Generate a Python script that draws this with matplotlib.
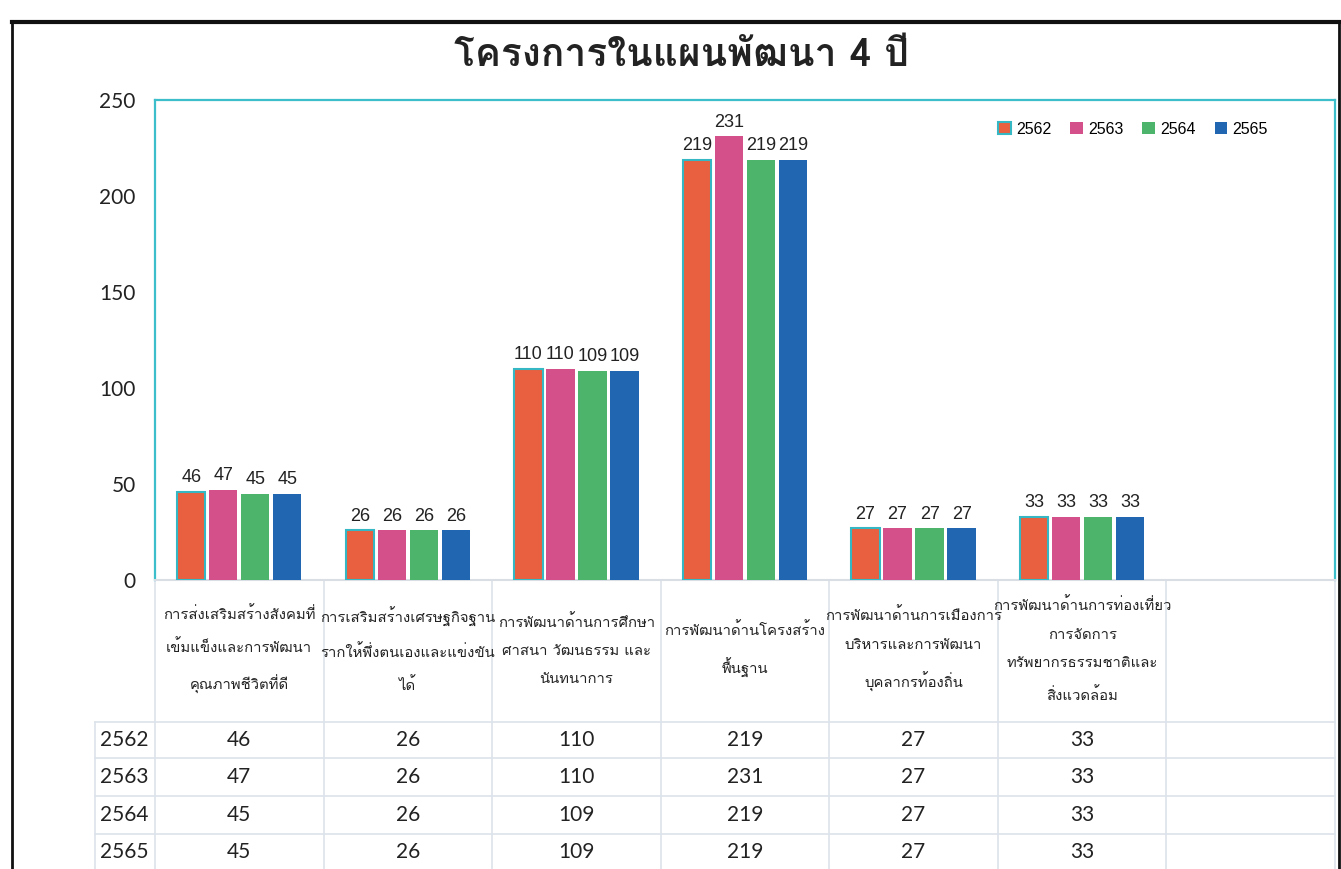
import matplotlib
matplotlib.use("Agg")
import matplotlib.pyplot as plt
import matplotlib.transforms as mtransforms
from matplotlib import font_manager
from matplotlib.ft2font import FT2Font
from matplotlib.lines import Line2D

# ---------------- data ----------------
title = "โครงการในแผนพัฒนา 4 ปี"
categories = [
    "การส่งเสริมสร้างสังคมที่\nเข้มแข็งและการพัฒนา\nคุณภาพชีวิตที่ดี",
    "การเสริมสร้างเศรษฐกิจฐาน\nรากให้พึ่งตนเองและแข่งขัน\nได้",
    "การพัฒนาด้านการศึกษา\nศาสนา วัฒนธรรม และ\nนันทนาการ",
    "การพัฒนาด้านโครงสร้าง\nพื้นฐาน",
    "การพัฒนาด้านการเมืองการ\nบริหารและการพัฒนา\nบุคลากรท้องถิ่น",
    "การพัฒนาด้านการท่องเที่ยว\nการจัดการ\nทรัพยากรธรรมชาติและ\nสิ่งแวดล้อม",
    "",
]
years = ["2562", "2563", "2564", "2565"]
v2562 = [46, 26, 110, 219, 27, 33]
v2563 = [47, 26, 110, 231, 27, 33]
v2564 = [45, 26, 109, 219, 27, 33]
v2565 = [45, 26, 109, 219, 27, 33]
series = [v2562, v2563, v2564, v2565]
yticks = [0, 50, 100, 150, 200, 250]

colors = ["#E8603F", "#D4508A", "#4DB46C", "#2066B0"]
edges = ["#35B8C4", "none", "none", "none"]

# ---------------- fonts ----------------
thai_family = None
for f in font_manager.fontManager.ttflist:
    try:
        cm = FT2Font(f.fname).get_charmap()
        if 0x0E01 in cm and 0x0E31 in cm and 0x0E49 in cm:
            thai_family = f.name
            break
    except Exception:
        pass
thai_fam = ([thai_family] if thai_family else []) + ["DejaVu Sans"]
num_fam = ["Lato", "DejaVu Sans"]
lab_fam = ["Liberation Sans", "DejaVu Sans"]
plt.rcParams["font.family"] = num_fam

W, H = 1341, 869
fig = plt.figure(figsize=(W / 100, H / 100), dpi=100)
fig.patch.set_facecolor("white")

L, R, T, B = 155, 1335, 100, 580
ax = fig.add_axes([L / W, 1 - B / H, (R - L) / W, (B - T) / H])

def ay(py):
    return (B - py) / (B - T)

nslots = len(categories)
offs = [-0.285, -0.095, 0.095, 0.285]
bw = 0.168
for i, (vals, c, e) in enumerate(zip(series, colors, edges)):
    xs = [k + offs[i] for k in range(len(vals))]
    ax.bar(xs, vals, width=bw, color=c, edgecolor=e,
           linewidth=1.5 if e != "none" else 0, label=years[i], zorder=3)
    for x, v in zip(xs, vals):
        ax.annotate(str(v), (x, v), xytext=(0, 4), textcoords="offset points",
                    ha="center", va="bottom", fontsize=13, color="#222222",
                    family=lab_fam)

ax.set_xlim(-0.5, nslots - 0.5)
ax.set_ylim(0, 250)
ax.set_yticks(yticks)
ax.set_yticklabels([str(t) for t in yticks], fontsize=15, color="#222222")
ax.tick_params(axis="y", length=0, pad=14)
ax.set_xticks([])
for s in ["top", "right", "left"]:
    ax.spines[s].set_color("#3CBFCB")
    ax.spines[s].set_linewidth(1.6)
ax.spines["bottom"].set_color("#D8DEE4")
ax.spines["bottom"].set_linewidth(1.5)

ax.legend(loc="upper right", bbox_to_anchor=(0.955, 0.985), ncol=4, frameon=False,
          handlelength=0.8, handleheight=0.8, handletextpad=0.3,
          columnspacing=1.2, prop={"family": lab_fam, "size": 11.5})

# ---------------- data table ----------------
bt = mtransforms.blended_transform_factory(ax.transData, ax.transAxes)
ft = fig.transFigure
gridc = "#DCE3EA"
for py in [722, 758, 796, 834]:
    fig.add_artist(Line2D([95 / W, R / W], [1 - py / H] * 2, color=gridc, lw=1.2, transform=ft))
for k in range(nslots + 1):
    x = k - 0.5
    ax.plot([x, x], [0, ay(H)], color=gridc, lw=1.2, transform=bt, clip_on=False)
fig.add_artist(Line2D([95 / W] * 2, [1 - 722 / H, 0], color=gridc, lw=1.2, transform=ft))

for k, cat in enumerate(categories):
    if cat:
        ax.text(k, ay(650), cat, transform=bt, ha="center", va="center",
                fontsize=10.7, linespacing=2.3, family=thai_fam, color="#222222")

row_py = [740, 777, 815, 852]
for r, (yr, vals) in enumerate(zip(years, series)):
    fig.text(100 / W, 1 - row_py[r] / H, yr, ha="left", va="center",
             fontsize=15, family=num_fam, color="#222222")
    for k, v in enumerate(vals):
        ax.text(k, ay(row_py[r]), str(v), transform=bt, ha="center", va="center",
                fontsize=15, family=num_fam, color="#222222")

# ---------------- title & frame ----------------
fig.text(681 / W, 1 - 56 / H, title, ha="center", va="center", fontsize=28,
         fontweight="bold", family=thai_fam, color="#222222")
fig.add_artist(Line2D([12 / W, 1], [1 - 22 / H] * 2, color="#111111", lw=3, transform=ft))
fig.add_artist(Line2D([12 / W] * 2, [1 - 22 / H, 0], color="#111111", lw=2, transform=ft))
fig.add_artist(Line2D([1339 / W] * 2, [1 - 22 / H, 0], color="#111111", lw=2, transform=ft))

fig.savefig("out.png", dpi=100)
